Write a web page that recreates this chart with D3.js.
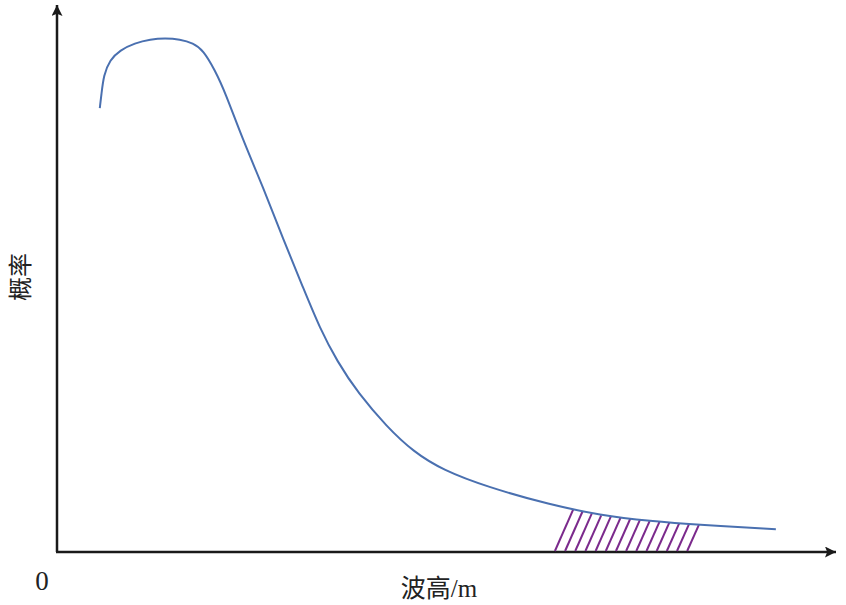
<!DOCTYPE html>
<html>
<head>
  <script src="https://d3js.org/d3.v7.min.js"></script>
  <style>
    body { margin: 0; background: #fff; }
    .axis { stroke: #1a1a1a; stroke-width: 2.5; fill: none; }
    .curve { fill: none; stroke: #4a70b0; stroke-width: 2; }
    .hatch { stroke: #7b2a8c; stroke-width: 2; }
  </style>
</head>
<body>
  <script>
    var width = 846, height = 605;

    // wave height (m) and probability
    var waveHeight = [0.55, 0.57, 0.60, 0.68, 0.81, 1.00, 1.20, 1.39, 1.58, 1.75, 1.88, 2.03, 2.16, 2.39,
                      2.65, 2.91, 3.16, 3.38, 3.60, 3.87, 4.24, 4.58, 4.96, 5.53, 6.34, 6.98, 7.62, 8.27, 9.24];
    var probability = [0.819, 0.843, 0.880, 0.908, 0.926, 0.939, 0.946, 0.948, 0.946, 0.939, 0.926, 0.889, 0.849, 0.760,
                       0.673, 0.576, 0.489, 0.412, 0.352, 0.293, 0.231, 0.185, 0.151, 0.120, 0.087, 0.068, 0.057, 0.050, 0.042];
    // hatched tail region
    var hatchStart = 6.40, hatchEnd = 8.10, hatchCount = 14;
    var xLabel = "波高/m", yLabel = "概率", originLabel = "0";

    var x = d3.scaleLinear().domain([0, 10]).range([57, 835]);
    var y = d3.scaleLinear().domain([0, 1]).range([552, 10]);

    var svg = d3.select("body").append("svg").attr("width", width).attr("height", height);

    var defs = svg.append("defs");
    defs.append("marker").attr("id", "arrow")
      .attr("viewBox", "0 0 10 10").attr("refX", 10).attr("refY", 5)
      .attr("markerWidth", 22).attr("markerHeight", 11).attr("markerUnits", "userSpaceOnUse")
      .attr("orient", "auto")
      .append("path").attr("d", "M0,0 L10,5 L0,10 L2,5 Z").attr("fill", "#1a1a1a");

    // axes
    svg.append("line").attr("class", "axis")
      .attr("x1", x(0)).attr("y1", y(0)).attr("x2", x(0)).attr("y2", 5)
      .attr("marker-end", "url(#arrow)");
    svg.append("line").attr("class", "axis")
      .attr("x1", x(0) - 1).attr("y1", y(0)).attr("x2", 836).attr("y2", y(0))
      .attr("marker-end", "url(#arrow)");

    var pts = waveHeight.map(function(w, i) { return [x(w), y(probability[i])]; });

    // curve y (pixels) at a pixel x, linear between read points
    function curveY(px) {
      for (var i = 1; i < pts.length; i++) {
        if (px <= pts[i][0]) {
          var t = (px - pts[i - 1][0]) / (pts[i][0] - pts[i - 1][0]);
          return pts[i - 1][1] + t * (pts[i][1] - pts[i - 1][1]);
        }
      }
      return pts[pts.length - 1][1];
    }

    var slope = 0.43; // dx per dy of the hatch lines
    var step = (hatchEnd - hatchStart) / (hatchCount - 1);
    var hatches = d3.range(hatchCount).map(function(i) {
      var bx = x(hatchStart + i * step), by = y(0);
      // find where the slanted line meets the curve
      var tx = bx, ty = by;
      for (var k = 0; k < 20; k++) {
        ty = curveY(tx);
        tx = bx + (by - ty) * slope;
      }
      return { x1: bx, y1: by, x2: tx, y2: curveY(tx) };
    });

    svg.selectAll(".hatch").data(hatches).enter().append("line")
      .attr("class", "hatch")
      .attr("x1", function(d) { return d.x1; }).attr("y1", function(d) { return d.y1 - 1; })
      .attr("x2", function(d) { return d.x2; }).attr("y2", function(d) { return d.y2; });

    var line = d3.line().curve(d3.curveBasis);
    svg.append("path").attr("class", "curve").attr("d", line(pts));

    // labels
    svg.append("text").attr("x", 42).attr("y", 590).attr("text-anchor", "middle")
      .style("font-family", "'Liberation Serif', serif").style("font-size", "27px").attr("fill", "#222")
      .text(originLabel);
    svg.append("text").attr("x", 439).attr("y", 597).attr("text-anchor", "middle")
      .style("font-family", "'Liberation Serif', 'Noto Sans CJK SC', serif").style("font-size", "25px").attr("fill", "#222")
      .text(xLabel);
    svg.append("text").attr("transform", "translate(29,277) rotate(-90)").attr("text-anchor", "middle")
      .style("font-family", "'Noto Sans CJK SC', sans-serif").style("font-size", "24px").attr("fill", "#222")
      .text(yLabel);
  </script>
</body>
</html>
